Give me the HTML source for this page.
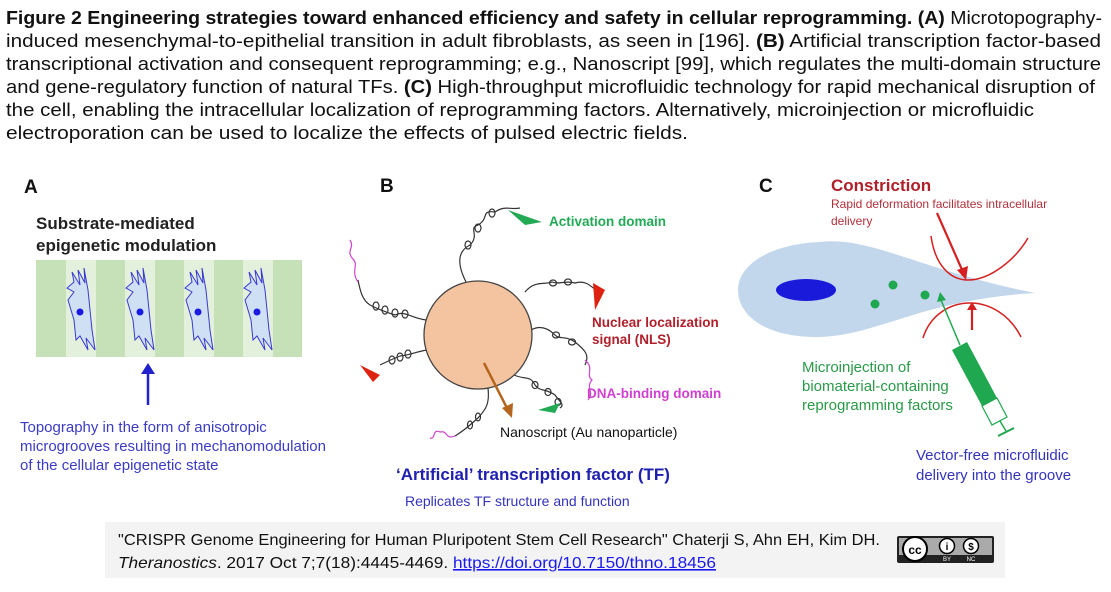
<!DOCTYPE html>
<html><head><meta charset="utf-8"><style>
html,body{margin:0;padding:0;background:#fff;}
svg{display:block;font-family:"Liberation Sans",sans-serif;}
.cap{font-size:18.5px;fill:#111;}
</style></head><body>
<svg width="1111" height="592" viewBox="0 0 1111 592" xmlns="http://www.w3.org/2000/svg">
<!-- caption -->
<g class="cap">
<text x="6" y="24" textLength="1096" lengthAdjust="spacingAndGlyphs"><tspan font-weight="bold">Figure 2  Engineering strategies toward enhanced efficiency and safety in cellular reprogramming. (A)</tspan> Microtopography-</text>
<text x="6" y="47" textLength="1095" lengthAdjust="spacingAndGlyphs">induced mesenchymal-to-epithelial transition in adult fibroblasts, as seen in [196]. <tspan font-weight="bold">(B)</tspan> Artificial transcription factor-based</text>
<text x="6" y="70" textLength="1095" lengthAdjust="spacingAndGlyphs">transcriptional activation and consequent reprogramming; e.g., Nanoscript [99], which regulates the multi-domain structure</text>
<text x="6" y="93" textLength="1089" lengthAdjust="spacingAndGlyphs">and gene-regulatory function of natural TFs. <tspan font-weight="bold">(C)</tspan> High-throughput microfluidic technology for rapid mechanical disruption of</text>
<text x="6" y="116" textLength="1028" lengthAdjust="spacingAndGlyphs">the cell, enabling the intracellular localization of reprogramming factors. Alternatively, microinjection or microfluidic</text>
<text x="6" y="139" textLength="682" lengthAdjust="spacingAndGlyphs">electroporation can be used to localize the effects of pulsed electric fields.</text>
</g>

<!-- Panel A -->
<text x="24" y="193" font-size="19" font-weight="bold" fill="#111">A</text>
<text x="36" y="229" font-size="17" font-weight="bold" fill="#222">Substrate-mediated</text>
<text x="36" y="251" font-size="17" font-weight="bold" fill="#222">epigenetic modulation</text>
<rect x="36" y="260" width="266" height="97" fill="#c6e0b8"/>
<rect x="66" y="260" width="30" height="97" fill="#e3f0dc"/>
<rect x="125" y="260" width="30" height="97" fill="#e3f0dc"/>
<rect x="184" y="260" width="30" height="97" fill="#e3f0dc"/>
<rect x="243" y="260" width="30" height="97" fill="#e3f0dc"/>
<g fill="#cfe0f4" stroke="#3a3ad0" stroke-width="1">
<path id="cell" d="M72,272 L80,285 L78,270 L85,283 L84,268 L88,290 L92,330 L95,350 L86,338 L88,350 L80,336 L76,340 L74,320 L68,300 L74,292 L67,288 L74,282 Z"/>
<use href="#cell" x="59"/><use href="#cell" x="118"/><use href="#cell" x="177"/>
</g>
<g fill="#1a1ae0"><circle cx="80" cy="312" r="3.5"/><circle cx="140" cy="312" r="3.5"/><circle cx="198" cy="312" r="3.5"/><circle cx="257" cy="312" r="3.5"/></g>
<line x1="148" y1="405" x2="148" y2="372" stroke="#2222cc" stroke-width="2.5"/>
<path d="M141,374 L148,363 L155,374 Z" fill="#2222cc"/>
<g font-size="15" fill="#3b3bc4">
<text x="20" y="432">Topography in the form of anisotropic</text>
<text x="20" y="451">microgrooves resulting in mechanomodulation</text>
<text x="20" y="470">of the cellular epigenetic state</text>
</g>

<!-- Panel B -->
<text x="380" y="192" font-size="19" font-weight="bold" fill="#111">B</text>
<g fill="none" stroke="#333" stroke-width="1.2">
<path d="M466,282 C455,260 460,250 470,245 C480,235 468,228 478,225 C490,218 480,210 495,212 C505,205 510,210 520,208"/>
<path d="M525,292 C535,280 545,285 552,282 C560,285 565,280 575,283 C585,280 590,285 598,292"/>
<path d="M531,330 C540,325 548,328 555,335 C560,340 565,335 575,342 C585,350 590,355 585,365"/>
<path d="M514,375 C525,380 530,375 535,385 C540,392 545,388 555,395 C560,402 565,405 560,408"/>
<path d="M488,388 C490,405 485,410 478,418 C470,425 465,430 455,436"/>
<path d="M426,320 C410,318 405,310 395,315 C385,312 380,310 370,305 C362,300 360,290 358,280"/>
<path d="M427,350 C415,352 410,355 400,356 C395,358 390,360 380,365"/>
<!-- coil loops -->
<ellipse cx="468" cy="245" rx="3" ry="4"/><ellipse cx="478" cy="228" rx="3" ry="4"/><ellipse cx="492" cy="213" rx="3" ry="4"/>
<ellipse cx="553" cy="283" rx="3.5" ry="3"/><ellipse cx="568" cy="282" rx="3.5" ry="3"/>
<ellipse cx="556" cy="335" rx="3.5" ry="3"/><ellipse cx="572" cy="342" rx="3.5" ry="3"/>
<ellipse cx="535" cy="385" rx="3" ry="3.5"/><ellipse cx="548" cy="392" rx="3" ry="3.5"/><ellipse cx="558" cy="402" rx="3" ry="3.5"/>
<ellipse cx="478" cy="417" rx="2.5" ry="4"/><ellipse cx="470" cy="425" rx="2.5" ry="4"/>
<ellipse cx="405" cy="314" rx="3" ry="4"/><ellipse cx="395" cy="313" rx="3" ry="4"/><ellipse cx="385" cy="310" rx="3" ry="4"/><ellipse cx="376" cy="306" rx="3" ry="4"/>
<ellipse cx="408" cy="354" rx="3" ry="4"/><ellipse cx="400" cy="357" rx="3" ry="4"/><ellipse cx="392" cy="360" rx="3" ry="4"/>
</g>
<g fill="none" stroke="#cc44cc" stroke-width="1.2">
<path d="M358,282 C350,270 360,265 352,258 C346,250 355,248 350,240"/>
<path d="M585,360 C595,368 585,375 592,380 C585,388 595,392 588,400"/>
<path d="M455,436 C445,440 448,430 440,432 C432,428 436,440 430,438"/>
</g>
<path d="M508,210 L542,222 L525,225 Z" fill="#22aa55"/>
<path d="M593,283 L605,290 L595,310 Z" fill="#dd2211"/>
<path d="M360,365 L380,375 L373,382 Z" fill="#dd2211"/>
<path d="M538,410 L560,403 L555,413 Z" fill="#22aa55"/>
<circle cx="478" cy="335" r="54" fill="#f4c3a0" stroke="#444" stroke-width="1.3"/>
<line x1="484" y1="363" x2="508" y2="410" stroke="#b5651d" stroke-width="2.5"/>
<path d="M502,408 L512,418 L513,403 Z" fill="#b5651d"/>
<text x="549" y="226" font-size="13.5" font-weight="bold" fill="#22aa55">Activation domain</text>
<text x="592" y="327" font-size="13.5" font-weight="bold" fill="#b0202a">Nuclear localization</text>
<text x="592" y="344" font-size="13.5" font-weight="bold" fill="#b0202a">signal (NLS)</text>
<text x="587" y="398" font-size="13.5" font-weight="bold" fill="#d040d0">DNA-binding domain</text>
<text x="500" y="437" font-size="14" fill="#111">Nanoscript (Au nanoparticle)</text>
<text x="396" y="480" font-size="17" font-weight="bold" fill="#2020b0">‘Artificial’ transcription factor (TF)</text>
<text x="405" y="506" font-size="14" fill="#3333bb">Replicates TF structure and function</text>

<!-- Panel C -->
<text x="759" y="192" font-size="19" font-weight="bold" fill="#111">C</text>
<text x="831" y="191" font-size="17" font-weight="bold" fill="#b0202a">Constriction</text>
<text x="831" y="208" font-size="12" fill="#b0303a">Rapid deformation facilitates intracellular</text>
<text x="831" y="225" font-size="12" fill="#b0303a">delivery</text>
<path d="M820,242 C870,236 920,270 1035,293 C920,300 880,335 820,337 C765,338 738,315 738,290 C738,265 770,244 820,242 Z" fill="#c2d6ec"/>
<ellipse cx="806" cy="290" rx="30" ry="11" fill="#1a1adb"/>
<g fill="#1fa84f"><circle cx="893" cy="285" r="4.5"/><circle cx="875" cy="304" r="4.5"/><circle cx="925" cy="295" r="4.5"/></g>
<g fill="none" stroke="#d42020" stroke-width="1.5">
<path d="M931,236 C935,265 950,280 968,280 C990,280 1015,260 1028,238"/>
<path d="M923,338 C930,315 950,303 970,303 C990,303 1010,315 1021,337"/>
</g>
<g stroke="#d42020" stroke-width="2.2">
<line x1="937" y1="213" x2="963" y2="272"/>
<line x1="972" y1="330" x2="972" y2="308"/>
</g>
<path d="M957,270 L966,280 L968,266 Z" fill="#d42020"/>
<path d="M967,310 L972,302 L977,310 Z" fill="#d42020"/>
<line x1="941" y1="300" x2="960" y2="345" stroke="#1fa84f" stroke-width="1.5"/>
<path d="M937,302 L940,292 L946,300 Z" fill="#1fa84f"/>
<path d="M952,350 L967,342 L997,398 L982,406 Z" fill="#1fa84f"/>
<path d="M982,406 L997,398 L1007,417 L992,425 Z" fill="#fff" stroke="#1fa84f" stroke-width="1.2"/>
<line x1="1000" y1="421" x2="1006" y2="431" stroke="#1fa84f" stroke-width="1.5"/>
<line x1="998" y1="436" x2="1014" y2="428" stroke="#1fa84f" stroke-width="2"/>
<g font-size="15" fill="#2a9a48">
<text x="802" y="372">Microinjection of</text>
<text x="802" y="391">biomaterial-containing</text>
<text x="802" y="410">reprogramming factors</text>
</g>
<g font-size="15" fill="#3333bb">
<text x="916" y="460">Vector-free microfluidic</text>
<text x="916" y="480">delivery into the groove</text>
</g>

<!-- citation -->
<rect x="105" y="522" width="900" height="56" fill="#f3f3f3"/>
<text x="118" y="545" font-size="16" fill="#111" textLength="762" lengthAdjust="spacingAndGlyphs">"CRISPR Genome Engineering for Human Pluripotent Stem Cell Research" Chaterji S, Ahn EH, Kim DH.</text>
<text x="118" y="568" font-size="16" fill="#111" textLength="598" lengthAdjust="spacingAndGlyphs"><tspan font-style="italic">Theranostics</tspan>. 2017 Oct 7;7(18):4445-4469. <tspan fill="#1a1aee" text-decoration="underline">https://doi.org/10.7150/thno.18456</tspan></text>
<rect x="897" y="536" width="97" height="27" rx="2" fill="#222"/>
<rect x="899" y="538" width="93" height="17" fill="#aaa"/>
<circle cx="915" cy="549" r="12" fill="#fff" stroke="#000" stroke-width="2"/>
<text x="915" y="554" font-size="12" font-weight="bold" text-anchor="middle" fill="#000">cc</text>
<circle cx="947" cy="546" r="7.5" fill="#fff" stroke="#000" stroke-width="1.5"/>
<text x="947" y="550" font-size="10" font-weight="bold" text-anchor="middle">i</text>
<circle cx="971" cy="546" r="7.5" fill="#fff" stroke="#000" stroke-width="1.5"/>
<text x="971" y="550" font-size="10" font-weight="bold" text-anchor="middle">$</text>
<text x="947" y="561" font-size="6" fill="#fff" text-anchor="middle">BY</text>
<text x="971" y="561" font-size="6" fill="#fff" text-anchor="middle">NC</text>
</svg>
</body></html>
